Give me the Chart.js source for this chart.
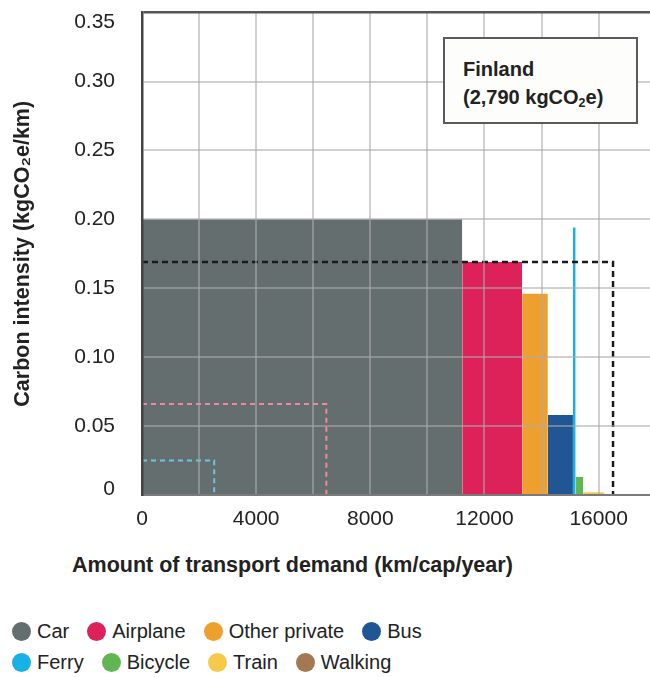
<!DOCTYPE html>
<html>
<head>
<meta charset="utf-8">
<script src="https://cdn.jsdelivr.net/npm/chart.js@4.4.1/dist/chart.umd.min.js"></script>
<style>
    body { margin: 0; background: #ffffff; font-family: "Liberation Sans", Arial, Helvetica, sans-serif; color: #222; }
    #wrap { position: relative; width: 650px; height: 677px; overflow: hidden; }
    #chart { position: absolute; left: 0; top: 0; }
    #x-title { position: absolute; left: 72px; top: 552px; font-size: 21.5px; font-weight: bold; line-height: 26px; white-space: nowrap; }
    #note { position: absolute; left: 443px; top: 37px; width: 173px; height: 67px; padding: 16px 0 0 18px; border: 2px solid #5a5a5a; background: #fdfdfb; font-size: 20px; font-weight: bold; line-height: 28px; }
    #note sub { font-size: 0.62em; vertical-align: -0.25em; line-height: 0; }
    #legend { position: absolute; left: 12px; top: 616px; font-size: 20px; }
    .legend-row { display: flex; align-items: center; height: 31px; }
    .legend-item { display: flex; align-items: center; margin-right: 18px; white-space: nowrap; }
    .legend-dot { width: 19px; height: 19px; border-radius: 50%; margin-right: 6px; }
</style>
</head>
<body>
<div id="wrap">
    <canvas id="chart" width="650" height="540"></canvas>
    <div id="x-title">Amount of transport demand (km/cap/year)</div>
    <div id="note">Finland<br>(2,790 kgCO<sub>2</sub>e)</div>
    <div id="legend"></div>
</div>
<script>
// Transport modes, in the order they are stacked along the x axis
const modes = ['Car', 'Airplane', 'Other private', 'Bus', 'Ferry', 'Bicycle', 'Train', 'Walking'];
// Demand per mode (km/cap/year) = bar widths
const demand = [11220, 2100, 900, 880, 95, 270, 740, 300];
// Carbon intensity per mode (kgCO2e/km) = bar heights
const intensity = [0.200, 0.169, 0.146, 0.058, 0.194, 0.013, 0.002, 0.0005];
const modeColors = ['#646e6e', '#dc2259', '#eea02e', '#215695', '#18b0e6', '#62b652', '#f5c94a', '#a37953'];

// Country total footprint (kgCO2e/cap/year)
const footprint = 2790;

// Reference boxes (dashed outlines): demand and intensity
const refDemand = [6460, 2530];
const refIntensity = [0.066, 0.025];
const refColors = ['#f0899c', '#6ec3e6'];

// Axis ticks
const yTicks = [0, 0.05, 0.10, 0.15, 0.20, 0.25, 0.30, 0.35];
const xTicks = [0, 2000, 4000, 6000, 8000, 10000, 12000, 14000, 16000];
const xLabels = ['0', '', '4000', '', '8000', '', '12000', '', '16000'];
const xMax = 17800;
const yMax = 0.35;

const FONT = '"Liberation Sans", Arial, Helvetica, sans-serif';
const GRID = 'rgba(171,171,171,0.56)';

// Build datasets
function buildDatasets() {
    const datasets = [];
    let start = 0;

    // One filled rectangle per mode: width = demand, height = intensity
    modes.forEach((mode, i) => {
        const end = start + demand[i];
        datasets.push({
            label: mode,
            data: [{ x: start, y: intensity[i] }, { x: end, y: intensity[i] }],
            borderWidth: 0,
            borderColor: modeColors[i],
            backgroundColor: modeColors[i],
            fill: 'origin',
            pointRadius: 0,
            order: 1
        });
        start = end;
    });

    // Average intensity outline
    const totalDemand = demand.reduce((a, b) => a + b, 0);
    const avg = footprint / totalDemand;
    datasets.push({
        label: 'Average',
        data: [{ x: 0, y: avg }, { x: totalDemand, y: avg }, { x: totalDemand, y: 0 }],
        borderColor: '#1a1a1a',
        borderWidth: 2.5,
        borderDash: [6, 4],
        fill: false,
        pointRadius: 0,
        order: 0
    });

    refDemand.forEach((d, i) => {
        datasets.push({
            label: 'Reference ' + (i + 1),
            data: [{ x: 0, y: refIntensity[i] }, { x: d, y: refIntensity[i] }, { x: d, y: 0 }],
            borderColor: refColors[i],
            borderWidth: 2,
            borderDash: [5, 4],
            fill: false,
            pointRadius: 0,
            order: 0
        });
    });

    return datasets;
}

// End labels sit inside the plot, as in the original
function yLabel(value) {
    if (value === 0) return ['0', ''];
    if (value === yMax) return ['', value.toFixed(2)];
    return value.toFixed(2);
}

function yLabelFont(ctx) {
    let lineHeight = 1.2;
    if (ctx.tick && ctx.tick.value === 0) lineHeight = '12px';
    if (ctx.tick && ctx.tick.value === yMax) lineHeight = '19px';
    return { family: FONT, size: 21, lineHeight };
}

new Chart(document.getElementById('chart'), {
    type: 'line',
    data: { datasets: buildDatasets() },
    options: {
        responsive: false,
        animation: false,
        layout: { padding: 0 },
        plugins: {
            legend: { display: false },
            tooltip: { enabled: false }
        },
        elements: { line: { tension: 0 } },
        scales: {
            x: {
                type: 'linear',
                min: 0,
                max: xMax,
                afterFit: scale => { scale.height = 45; },
                afterBuildTicks: scale => { scale.ticks = xTicks.map(v => ({ value: v })); },
                ticks: {
                    padding: 0,
                    color: '#222',
                    font: { family: FONT, size: 21 },
                    maxRotation: 0,
                    autoSkip: false,
                    callback: (value, index) => xLabels[index]
                },
                grid: {
                    z: 1,
                    drawTicks: true,
                    tickLength: 12,
                    tickColor: 'rgba(0,0,0,0)',
                    lineWidth: 2,
                    color: ctx => (ctx.tick && ctx.tick.value === 0 ? 'rgba(0,0,0,0)' : GRID)
                },
                border: { display: true, color: '#7a7a7a', width: 2, z: 2 }
            },
            y: {
                type: 'linear',
                min: 0,
                max: yMax,
                afterFit: scale => {
                    scale.width = 142;
                    scale.paddingTop = 12.6;
                    scale.paddingBottom = 0;
                },
                afterBuildTicks: scale => { scale.ticks = yTicks.map(v => ({ value: v })); },
                ticks: {
                    padding: 0,
                    color: '#222',
                    font: yLabelFont,
                    callback: yLabel
                },
                grid: {
                    z: 1,
                    drawTicks: true,
                    tickLength: 27,
                    tickColor: 'rgba(0,0,0,0)',
                    lineWidth: ctx => (ctx.tick && ctx.tick.value >= yMax ? 2.5 : 2),
                    color: ctx => {
                        if (!ctx.tick) return GRID;
                        if (ctx.tick.value >= yMax) return '#555555';
                        if (ctx.tick.value === 0) return '#7a7a7a';
                        return GRID;
                    }
                },
                border: { display: true, color: '#444444', width: 2.5, z: 2 },
                title: {
                    display: true,
                    text: 'Carbon intensity (kgCO\u2082e/km)',
                    color: '#222',
                    font: { family: FONT, size: 21.5, weight: 'bold' },
                    padding: { top: 10, bottom: 0 }
                }
            }
        }
    }
});

// Legend (two rows, as in the original)
function buildLegend() {
    const legend = document.getElementById('legend');
    const rows = [modes.slice(0, 4), modes.slice(4)];
    rows.forEach(rowModes => {
        const row = document.createElement('div');
        row.className = 'legend-row';
        rowModes.forEach(mode => {
            const i = modes.indexOf(mode);
            const item = document.createElement('div');
            item.className = 'legend-item';
            const dot = document.createElement('span');
            dot.className = 'legend-dot';
            dot.style.background = modeColors[i];
            const text = document.createElement('span');
            text.textContent = mode;
            item.appendChild(dot);
            item.appendChild(text);
            row.appendChild(item);
        });
        legend.appendChild(row);
    });
}
buildLegend();
</script>
</body>
</html>
